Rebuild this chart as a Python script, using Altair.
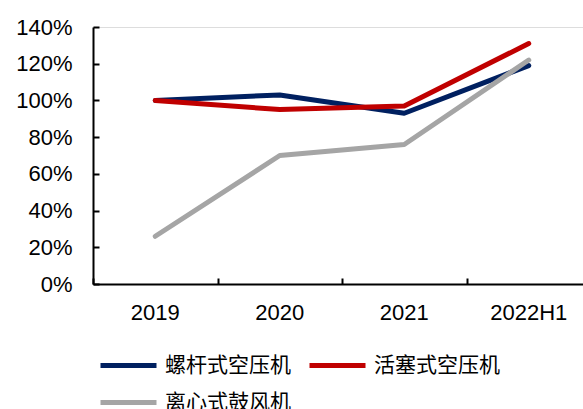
import altair as alt
import pandas as pd

years = ["2019", "2020", "2021", "2022H1"]
series_names = ["螺杆式空压机", "活塞式空压机", "离心式鼓风机"]
screw = [1.00, 1.03, 0.93, 1.19]
piston = [1.00, 0.95, 0.97, 1.31]
blower = [0.26, 0.70, 0.76, 1.22]
colors = ["#002060", "#C00000", "#A5A5A5"]
y_ticks = [0, 0.2, 0.4, 0.6, 0.8, 1.0, 1.2, 1.4]

rows = []
for name, vals in zip(series_names, [screw, piston, blower]):
    for i, (yr, v) in enumerate(zip(years, vals)):
        rows.append({"year": yr, "series": name, "value": v, "order": i})
df = pd.DataFrame(rows)

LABEL_FONT = "Liberation Sans"

x_scale = alt.Scale(type="band", domain=years, range=[0, 498], paddingInner=0, paddingOuter=0)
y_scale = alt.Scale(domain=[0, 1.4], nice=False)

lines = alt.Chart(df).mark_line(strokeWidth=5, strokeCap="round", strokeJoin="round").encode(
    x=alt.X("year:N", scale=x_scale, bandPosition=0.5, sort=years,
            axis=alt.Axis(title=None, labelAngle=0, labelFont=LABEL_FONT, labelFontSize=22,
                          labelColor="black", ticks=False, tickSize=0, labelPadding=18,
                          domainColor="black", domainWidth=2, grid=False)),
    y=alt.Y("value:Q", scale=y_scale,
            axis=alt.Axis(title=None, values=y_ticks, format=".0%", labelFont=LABEL_FONT,
                          labelFontSize=22, labelColor="black", ticks=False, tickSize=0,
                          labelPadding=21, domainColor="black", domainWidth=2, grid=False)),
    color=alt.Color("series:N", sort=series_names,
                    scale=alt.Scale(domain=series_names, range=colors),
                    legend=alt.Legend(title=None, orient="none", legendX=5, legendY=320,
                                      direction="horizontal",
                                      columns=2, columnPadding=16, rowPadding=0,
                                      symbolType="stroke", symbolSize=3136,
                                      symbolStrokeWidth=5, clipHeight=37,
                                      labelFont="Noto Sans CJK SC", labelFontSize=21,
                                      labelColor="black", labelOffset=6, padding=0,
                                      labelLimit=300)),
    order=alt.Order("order:Q"),
)

ticks_layer = alt.Chart(df).mark_line(opacity=0).encode(
    x=alt.X("year:N", scale=x_scale, bandPosition=0.5, sort=years,
            axis=alt.Axis(title=None, orient="bottom", offset=-6, labels=False, domain=False,
                          ticks=True, tickSize=6, tickWidth=2, tickColor="black",
                          tickBand="extent", grid=False)),
    y=alt.Y("value:Q", scale=y_scale,
            axis=alt.Axis(title=None, orient="left", offset=-6, labels=False, domain=False,
                          ticks=True, tickSize=6, tickWidth=2, tickColor="black",
                          values=y_ticks, grid=False)),
    detail="series:N",
)

chart = alt.layer(lines, ticks_layer).resolve_axis(x="independent", y="independent").properties(
    width=490, height=257,
    autosize=alt.AutoSizeParams(type="none"),
    padding={"left": 93, "top": 27, "right": 0, "bottom": 125},
).configure_view(stroke=None).configure(background="white")

chart.save("out.html", embed_options={"renderer": "svg", "actions": False})
